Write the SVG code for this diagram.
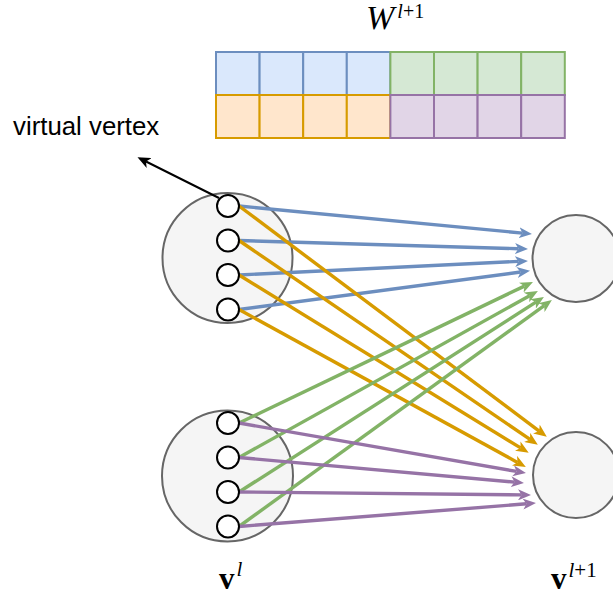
<svg xmlns="http://www.w3.org/2000/svg" width="613" height="600" viewBox="0 0 613 600">
<style>
.big{fill:#f5f5f5;stroke:#666666;stroke-width:2}
.vv{fill:#ffffff;stroke:#000000;stroke-width:2}
.b{fill:#dae8fc;stroke:#6c8ebf;stroke-width:2}
.g{fill:#d5e8d4;stroke:#82b366;stroke-width:2}
.o{fill:#ffe6cc;stroke:#d79b00;stroke-width:2}
.p{fill:#e1d5e7;stroke:#9673a6;stroke-width:2}
.eb{stroke:#6c8ebf;stroke-width:3.4;fill:none;marker-end:url(#mb)}
.eg{stroke:#82b366;stroke-width:3.4;fill:none;marker-end:url(#mg)}
.eo{stroke:#d79b00;stroke-width:3.4;fill:none;marker-end:url(#mo)}
.ep{stroke:#9673a6;stroke-width:3.4;fill:none;marker-end:url(#mp)}
.ek{stroke:#000000;stroke-width:2;fill:none;marker-end:url(#mk)}
.math{font-family:"Liberation Serif","DejaVu Serif",serif;fill:#000}
.lbl{font-family:"Liberation Sans",Arial,sans-serif;fill:#000}
</style>
<defs>
<marker id="mb" markerUnits="userSpaceOnUse" viewBox="0 0 13 11" markerWidth="13" markerHeight="11" refX="3.5" refY="5.5" orient="auto"><path d="M0,0 L13,5.5 L0,11 L3.5,5.5 Z" fill="#6c8ebf"/></marker>
<marker id="mg" markerUnits="userSpaceOnUse" viewBox="0 0 13 11" markerWidth="13" markerHeight="11" refX="3.5" refY="5.5" orient="auto"><path d="M0,0 L13,5.5 L0,11 L3.5,5.5 Z" fill="#82b366"/></marker>
<marker id="mo" markerUnits="userSpaceOnUse" viewBox="0 0 13 11" markerWidth="13" markerHeight="11" refX="3.5" refY="5.5" orient="auto"><path d="M0,0 L13,5.5 L0,11 L3.5,5.5 Z" fill="#d79b00"/></marker>
<marker id="mp" markerUnits="userSpaceOnUse" viewBox="0 0 13 11" markerWidth="13" markerHeight="11" refX="3.5" refY="5.5" orient="auto"><path d="M0,0 L13,5.5 L0,11 L3.5,5.5 Z" fill="#9673a6"/></marker>
<marker id="mk" markerUnits="userSpaceOnUse" viewBox="0 0 13 11" markerWidth="13" markerHeight="11" refX="3.5" refY="5.5" orient="auto"><path d="M0,0 L13,5.5 L0,11 L3.5,5.5 Z" fill="#000000"/></marker>
</defs>

<g id="weight-label">
<text class="math" x="366" y="29" font-size="34" font-style="italic">W<tspan font-size="20" dx="3" dy="-11">l</tspan><tspan font-size="20" font-style="normal">+1</tspan></text>
</g>

<g id="weight-matrix">
<rect class="b" x="216" y="52" width="43.6" height="43"/>
<rect class="b" x="259.6" y="52" width="43.6" height="43"/>
<rect class="b" x="303.2" y="52" width="43.6" height="43"/>
<rect class="b" x="346.8" y="52" width="43.6" height="43"/>
<rect class="g" x="390.4" y="52" width="43.6" height="43"/>
<rect class="g" x="434" y="52" width="43.6" height="43"/>
<rect class="g" x="477.6" y="52" width="43.6" height="43"/>
<rect class="g" x="521.2" y="52" width="43.6" height="43"/>
<rect class="o" x="216" y="95" width="43.6" height="43"/>
<rect class="o" x="259.6" y="95" width="43.6" height="43"/>
<rect class="o" x="303.2" y="95" width="43.6" height="43"/>
<rect class="o" x="346.8" y="95" width="43.6" height="43"/>
<rect class="p" x="390.4" y="95" width="43.6" height="43"/>
<rect class="p" x="434" y="95" width="43.6" height="43"/>
<rect class="p" x="477.6" y="95" width="43.6" height="43"/>
<rect class="p" x="521.2" y="95" width="43.6" height="43"/>
</g>

<g id="virtual-vertex-label">
<text class="lbl" x="13" y="135" font-size="25.8">virtual vertex</text>
</g>

<g id="vl-top"><circle class="big" cx="227.5" cy="258" r="65"/></g>
<g id="vl-bottom"><circle class="big" cx="227.5" cy="476" r="65.5"/></g>
<g id="vl1-top"><circle class="big" cx="576" cy="258.5" r="43.5"/></g>
<g id="vl1-bottom"><circle class="big" cx="576" cy="475" r="43"/></g>

<g id="connectors">
<line class="ek" x1="219" y1="198" x2="146" y2="161.5"/>
<line class="eb" x1="239" y1="206" x2="522.5" y2="233.1"/>
<line class="eb" x1="239" y1="240.5" x2="518.5" y2="248.7"/>
<line class="eb" x1="239" y1="275" x2="518.5" y2="261.4"/>
<line class="eb" x1="239" y1="309.5" x2="520.6" y2="272"/>
<line class="eo" x1="239" y1="206" x2="539.2" y2="431.1"/>
<line class="eo" x1="239" y1="240.5" x2="530" y2="439.4"/>
<line class="eo" x1="239" y1="275" x2="520.6" y2="447.9"/>
<line class="eo" x1="239" y1="309.5" x2="517.5" y2="462.4"/>
<line class="eg" x1="239" y1="423" x2="524.4" y2="286.1"/>
<line class="eg" x1="239" y1="457.5" x2="529.6" y2="295.7"/>
<line class="eg" x1="239" y1="492" x2="535.9" y2="302.1"/>
<line class="eg" x1="239" y1="526.5" x2="544.2" y2="305.6"/>
<line class="ep" x1="239" y1="423" x2="516.6" y2="471.4"/>
<line class="ep" x1="239" y1="457.5" x2="514.5" y2="482.1"/>
<line class="ep" x1="239" y1="492" x2="521.5" y2="494.9"/>
<line class="ep" x1="239" y1="526.5" x2="526.5" y2="503.8"/>
</g>

<g id="vv-top-1"><circle class="vv" cx="228" cy="206" r="11"/></g>
<g id="vv-top-2"><circle class="vv" cx="228" cy="240.5" r="11"/></g>
<g id="vv-top-3"><circle class="vv" cx="228" cy="275" r="11"/></g>
<g id="vv-top-4"><circle class="vv" cx="228" cy="309.5" r="11"/></g>
<g id="vv-bot-1"><circle class="vv" cx="228" cy="423" r="11"/></g>
<g id="vv-bot-2"><circle class="vv" cx="228" cy="457.5" r="11"/></g>
<g id="vv-bot-3"><circle class="vv" cx="228" cy="492" r="11"/></g>
<g id="vv-bot-4"><circle class="vv" cx="228" cy="526.5" r="11"/></g>

<g id="label-vl">
<text class="math" x="219" y="589" font-size="31" font-weight="bold">v<tspan font-size="21" font-weight="normal" font-style="italic" dx="2" dy="-13">l</tspan></text>
</g>
<g id="label-vl1">
<text class="math" x="551" y="589" font-size="31" font-weight="bold">v<tspan font-size="21" font-weight="normal" font-style="italic" dx="2" dy="-12">l</tspan><tspan font-size="21" font-weight="normal">+1</tspan></text>
</g>
</svg>
